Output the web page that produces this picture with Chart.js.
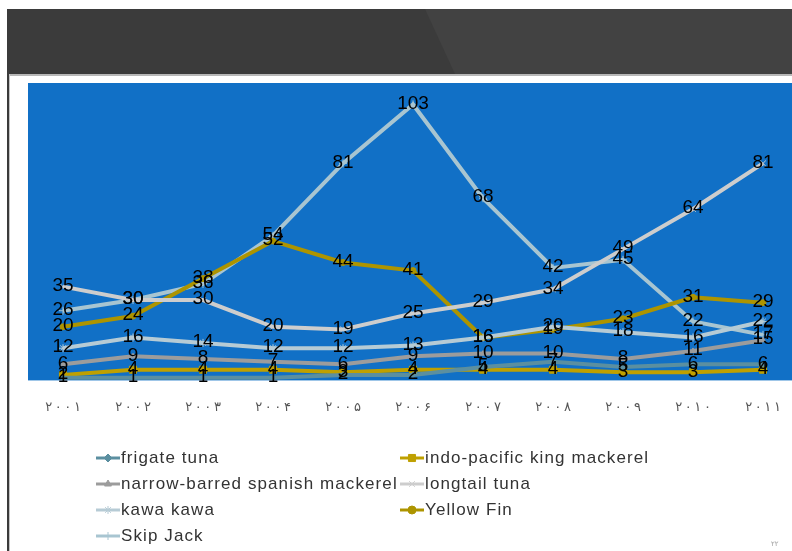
<!DOCTYPE html>
<html>
<head>
<meta charset="utf-8">
<script src="https://cdn.jsdelivr.net/npm/chart.js@4/dist/chart.umd.min.js"></script>
<style>
  html, body { margin:0; padding:0; width:792px; height:551px; overflow:hidden; background:#fff; }
  #band { position:absolute; left:7px; top:9px; width:785px; height:65px; background:#3b3b3b; }
  #bandLight { position:absolute; left:7px; top:9px; width:785px; height:65px; background:#424242;
               clip-path: polygon(418px 0, 785px 0, 785px 65px, 448px 65px); }
  #bandLine { position:absolute; left:9px; top:74px; width:783px; height:2px; background:#b8b8b8; }
  #leftStripe { position:absolute; left:7px; top:9px; width:2px; height:542px; background:#3b3b3b; }
  #leftLine { position:absolute; left:9px; top:74px; width:1px; height:477px; background:#c4c4c4; }
  #wrap { position:absolute; left:0; top:83px; width:830px; height:351px; }
  #wrap canvas { display:block; }
  #legend { position:absolute; left:0; top:0; width:792px; height:551px; pointer-events:none;
            font-family:"Liberation Sans", Arial, sans-serif; font-size:17px; letter-spacing:1.1px; color:#333; }
  .item { position:absolute; height:20px; display:flex; align-items:center; white-space:nowrap; }
  .item canvas { width:26px; height:14px; }
  #pg { position:absolute; left:771px; top:540px; font-family:"DejaVu Sans"; font-size:7px; color:#999; }
</style>
</head>
<body>
<div id="band"></div>
<div id="bandLight"></div>
<div id="bandLine"></div>
<div id="leftStripe"></div>
<div id="leftLine"></div>
<div id="wrap"><canvas id="c" width="830" height="351"></canvas></div>
<div id="legend"></div>
<div id="pg">۲۲</div>
<script>
// ---- data ----
const years = ["۲۰۰۱","۲۰۰۲","۲۰۰۳","۲۰۰۴","۲۰۰۵","۲۰۰۶","۲۰۰۷","۲۰۰۸","۲۰۰۹","۲۰۱۰","۲۰۱۱"];
const frigateTuna      = [1, 1, 1, 1, 2, 2, 5, 7, 5, 6, 6];
const indoPacificKing  = [2, 4, 4, 4, 3, 4, 4, 4, 3, 3, 4];
const narrowBarred     = [6, 9, 8, 7, 6, 9, 10, 10, 8, 11, 15];
const longtailTuna     = [35, 30, 30, 20, 19, 25, 29, 34, 49, 64, 81];
const kawaKawa         = [12, 16, 14, 12, 12, 13, 16, 20, 18, 16, 22];
const yellowFin        = [20, 24, 38, 52, 44, 41, 16, 19, 23, 31, 29];
const skipJack         = [26, 30, 36, 54, 81, 103, 68, 42, 45, 22, 17];
const seriesNames = ["frigate tuna","indo-pacific king mackerel","narrow-barred spanish mackerel","longtail tuna","kawa kawa","Yellow Fin","Skip Jack"];

const styles = [
  {c:'#5b8fa0', p:'rectRot', r:3},
  {c:'#bfa000', p:'rect', r:5},
  {c:'#9c9c9c', p:'triangle', r:3},
  {c:'#cdcdcd', p:'crossRot', r:4},
  {c:'#b6cbd5', p:'star', r:4},
  {c:'#ad9400', p:'circle', r:3},
  {c:'#a8c5d1', p:'cross', r:4}
];
const seriesData = [frigateTuna, indoPacificKing, narrowBarred, longtailTuna, kawaKawa, yellowFin, skipJack];

const datasets = seriesData.map((d, i) => ({
  label: seriesNames[i],
  data: d,
  borderColor: styles[i].c,
  backgroundColor: styles[i].c,
  borderWidth: 4,
  pointStyle: styles[i].p,
  pointRadius: styles[i].r,
  pointBorderWidth: 1,
  tension: 0
}));

const bgPlugin = {
  id: 'bg',
  beforeDraw(chart) {
    const a = chart.chartArea, ctx = chart.ctx;
    ctx.save();
    ctx.fillStyle = '#1170c6';
    ctx.fillRect(a.left, a.top, a.right - a.left, a.bottom - a.top);
    ctx.restore();
  }
};
const labelPlugin = {
  id: 'vals',
  afterDatasetsDraw(chart) {
    const ctx = chart.ctx;
    ctx.save();
    ctx.font = '19px "Liberation Sans", Arial, sans-serif';
    ctx.fillStyle = '#000';
    ctx.textAlign = 'center';
    ctx.textBaseline = 'middle';
    chart.data.datasets.forEach((ds, i) => {
      const meta = chart.getDatasetMeta(i);
      meta.data.forEach((pt, j) => {
        ctx.fillText(String(ds.data[j]), pt.x, pt.y - 1);
      });
    });
    ctx.restore();
  }
};

const chart = new Chart(document.getElementById('c'), {
  type: 'line',
  data: { labels: years, datasets },
  options: {
    responsive: false,
    animation: false,
    layout: { autoPadding: false, padding: { left: 28, right: 32, top: 0, bottom: 0 } },
    plugins: { legend: { display: false }, tooltip: { enabled: false } },
    scales: {
      x: {
        offset: true,
        grid: { display: false, drawTicks: false },
        border: { display: false },
        ticks: {
          padding: 19,
          color: '#555',
          font: { family: 'DejaVu Sans', size: 13 },
          maxRotation: 0,
          autoSkip: false,
          callback: function(v) { return this.getLabelForValue(v).split('').join('\u2009'); }
        }
      },
      y: { display: false, min: 0, max: 111 }
    }
  },
  plugins: [bgPlugin, labelPlugin]
});

// ---- legend (HTML, built from datasets) ----
const legend = document.getElementById('legend');
const colX = [95, 399];
const rowY = [448, 474, 500, 526];
chart.data.datasets.forEach((ds, i) => {
  const item = document.createElement('div');
  item.className = 'item';
  item.style.left = colX[i % 2] + 'px';
  item.style.top = rowY[Math.floor(i / 2)] + 'px';
  const cv = document.createElement('canvas');
  cv.width = 26; cv.height = 14;
  const cx = cv.getContext('2d');
  cx.strokeStyle = ds.borderColor; cx.lineWidth = 3;
  cx.beginPath(); cx.moveTo(1, 7); cx.lineTo(25, 7); cx.stroke();
  cx.fillStyle = ds.backgroundColor; cx.strokeStyle = ds.borderColor; cx.lineWidth = 1;
  Chart.helpers.drawPoint(cx, { pointStyle: ds.pointStyle, radius: Math.max(ds.pointRadius, 4), borderWidth: 1 }, 13, 7);
  item.appendChild(cv);
  const sp = document.createElement('span');
  sp.textContent = ds.label;
  item.appendChild(sp);
  legend.appendChild(item);
});
</script>
</body>
</html>
